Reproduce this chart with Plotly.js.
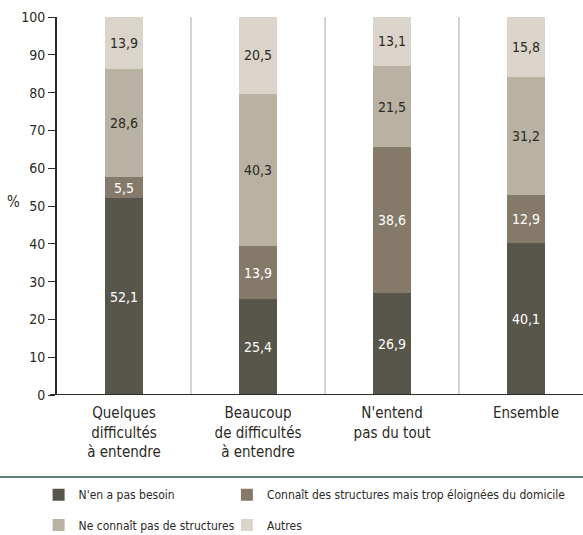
<!DOCTYPE html>
<html>
<head>
<meta charset="utf-8">
<script src="https://cdn.plot.ly/plotly-3.0.1.min.js"></script>
<style>html,body{margin:0;padding:0;background:#fff;} #chart{width:583px;height:535px;} #chart text{font-stretch:condensed !important;}</style>
</head>
<body>
<div id="chart"></div>
<script>
const categories = ["Quelques<br>difficultés<br>à entendre", "Beaucoup<br>de difficultés<br>à entendre", "N'entend<br>pas du tout", "Ensemble"];
const seriesNames = ["N'en a pas besoin", "Connaît des structures mais trop éloignées du domicile", "Ne connaît pas de structures", "Autres"];
const pasBesoin = [52.1, 25.4, 26.9, 40.1];
const tropEloignees = [5.5, 13.9, 38.6, 12.9];
const neConnaitPas = [28.6, 40.3, 21.5, 31.2];
const autres = [13.9, 20.5, 13.1, 15.8];
const tickValues = [0, 10, 20, 30, 40, 50, 60, 70, 80, 90, 100];

const FONT = "'DejaVu Sans Condensed', 'DejaVu Sans', sans-serif";
const colors = ["#58564a", "#857a6a", "#b9b1a1", "#dad4ca"];
const textColors = ["#ffffff", "#ffffff", "#2b2a25", "#2b2a25"];
const values = [pasBesoin, tropEloignees, neConnaitPas, autres];
const fmt = v => v.toFixed(1).replace('.', ',');

const legendIds = ['legend', 'legend2', 'legend3', 'legend4'];
const traces = values.map((vals, i) => ({
  type: 'bar',
  name: seriesNames[i],
  x: categories.map((c, k) => k),
  y: vals,
  width: 0.284,
  marker: {color: colors[i], line: {width: 0}},
  text: vals.map(fmt),
  textposition: 'inside',
  insidetextanchor: 'middle',
  textangle: 0,
  constraintext: 'none',
  textfont: {family: FONT, size: 14, color: textColors[i]},
  hoverinfo: 'skip',
  legend: legendIds[i]
}));

const shapes = [0.5, 1.5, 2.5].map(x => ({
  type: 'line', xref: 'x', yref: 'paper', x0: x, x1: x, y0: 0, y1: 1,
  line: {color: '#d4d4d4', width: 2}, layer: 'below'
}));
shapes.push({
  type: 'line', xref: 'paper', yref: 'paper', x0: -0.11, x1: 1, y0: -0.217, y1: -0.217,
  line: {color: '#5b8275', width: 2}
});
shapes.push({
  type: 'line', xref: 'paper', yref: 'y', x0: -0.013, x1: 1, y0: 0, y1: 0,
  line: {color: '#2b2a25', width: 2}
});

const legendCommon = {
  orientation: 'h', xref: 'paper', yref: 'paper', xanchor: 'left', yanchor: 'middle',
  font: {family: FONT, size: 12, color: '#2b2a25'},
  itemwidth: 30, bgcolor: 'rgba(0,0,0,0)', traceorder: 'normal', itemclick: false
};

const layout = {
  width: 583, height: 535,
  margin: {l: 57, r: 0, t: 17, b: 140, autoexpand: false},
  paper_bgcolor: '#ffffff', plot_bgcolor: '#ffffff',
  barmode: 'stack',
  font: {family: FONT, size: 14, color: '#2b2a25'},
  showlegend: true,
  xaxis: {
    range: [-0.5, 3.425],
    tickmode: 'array', tickvals: [0, 1, 2, 3], ticktext: categories,
    showgrid: false, zeroline: false, showline: false, ticks: '',
    ticklabelstandoff: 7,
    tickfont: {family: FONT, size: 15, color: '#2b2a25'}, fixedrange: true
  },
  yaxis: {
    range: [0, 100], tickmode: 'array', tickvals: tickValues,
    showgrid: false, zeroline: false,
    showline: true, linecolor: '#2b2a25', linewidth: 2, mirror: false,
    ticks: 'outside', ticklen: 7, tickcolor: '#2b2a25', tickwidth: 1,
    tickfont: {family: FONT, size: 14, color: '#2b2a25'}, fixedrange: true
  },
  shapes: shapes,
  annotations: [{
    xref: 'paper', yref: 'y', x: -0.083, y: 51, text: '%', showarrow: false,
    xanchor: 'center', yanchor: 'middle', font: {family: FONT, size: 15, color: '#2b2a25'}
  }],
  legend: Object.assign({}, legendCommon, {x: -0.035, y: -0.264}),
  legend2: Object.assign({}, legendCommon, {x: 0.323, y: -0.264}),
  legend3: Object.assign({}, legendCommon, {x: -0.035, y: -0.344}),
  legend4: Object.assign({}, legendCommon, {x: 0.323, y: -0.344})
};

Plotly.newPlot('chart', traces, layout, {staticPlot: true, displayModeBar: false});
</script>
</body>
</html>
